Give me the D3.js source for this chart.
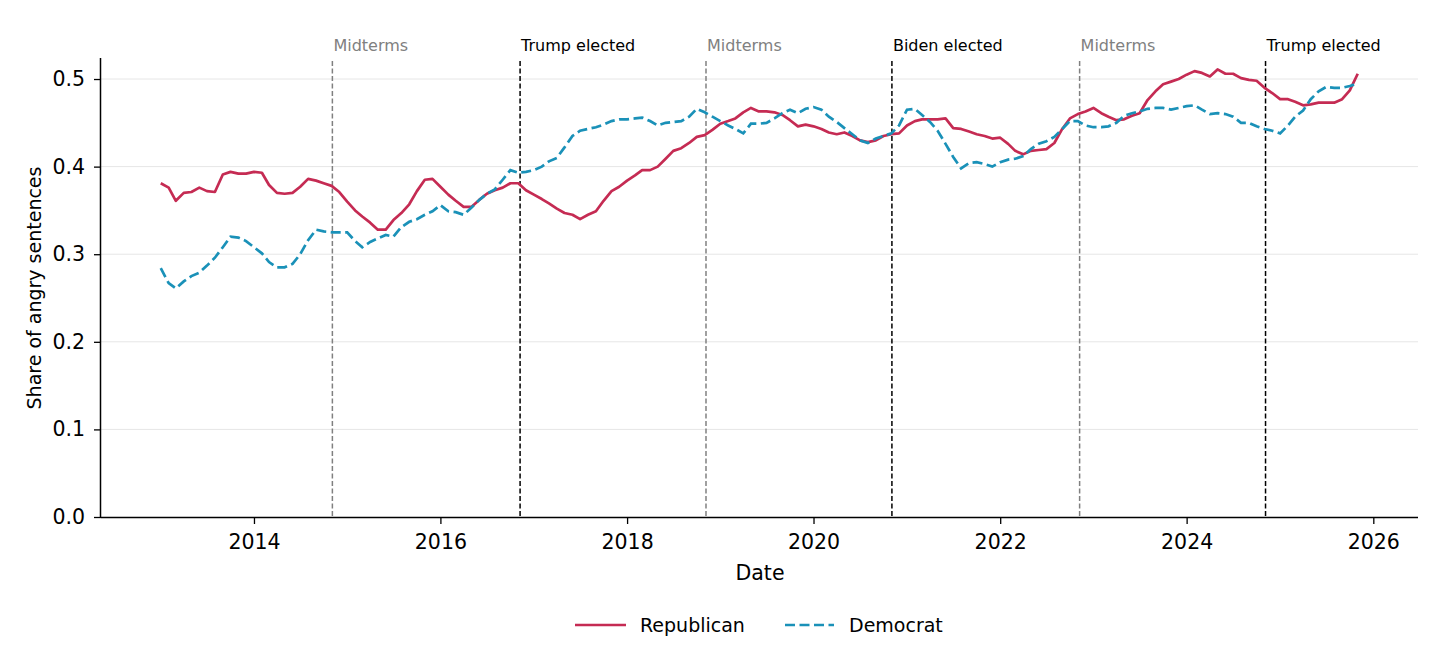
<!DOCTYPE html>
<html><head><meta charset="utf-8">
<script src="https://cdn.jsdelivr.net/npm/d3@7"></script>
<style>
body{margin:0;background:#fff;}
svg{display:block;font-family:"DejaVu Sans",sans-serif;}
</style></head>
<body><svg id="chart" width="1456" height="647"></svg>
<script>
// Monthly series, Jan 2013 .. Nov 2025
const startYear = 2013, startMonth = 0;
const republican = [
0.381,0.376,0.361,0.370,0.371,0.376,0.372,0.371,0.391,0.394,0.392,0.392,
0.394,0.393,0.379,0.370,0.369,0.370,0.377,0.386,0.384,0.381,0.378,0.371,
0.360,0.350,0.343,0.336,0.328,0.328,0.339,0.347,0.357,0.372,0.385,0.386,
0.377,0.368,0.361,0.354,0.354,0.362,0.369,0.373,0.376,0.381,0.381,0.373,
0.368,0.363,0.358,0.352,0.347,0.345,0.340,0.345,0.349,0.361,0.372,0.377,
0.384,0.390,0.396,0.396,0.400,0.409,0.418,0.421,0.427,0.434,0.436,0.442,
0.449,0.452,0.455,0.462,0.467,0.463,0.463,0.462,0.459,0.453,0.446,0.448,
0.446,0.443,0.439,0.437,0.439,0.435,0.430,0.428,0.430,0.435,0.437,0.438,
0.447,0.452,0.454,0.454,0.454,0.455,0.444,0.443,0.440,0.437,0.435,0.432,
0.433,0.426,0.418,0.414,0.418,0.419,0.420,0.427,0.443,0.455,0.460,0.463,
0.467,0.461,0.457,0.453,0.454,0.458,0.461,0.476,0.486,0.494,0.497,0.500,
0.505,0.509,0.507,0.503,0.511,0.506,0.506,0.501,0.499,0.498,0.490,0.484,
0.477,0.477,0.474,0.470,0.471,0.473,0.473,0.473,0.477,0.487,0.506
];
const democrat = [
0.284,0.267,0.261,0.269,0.275,0.279,0.287,0.296,0.308,0.320,0.319,0.315,
0.308,0.301,0.291,0.285,0.285,0.289,0.300,0.316,0.328,0.326,0.325,0.325,
0.325,0.315,0.308,0.314,0.318,0.322,0.320,0.331,0.337,0.340,0.345,0.349,
0.356,0.349,0.348,0.345,0.353,0.362,0.369,0.374,0.385,0.396,0.393,0.394,
0.396,0.400,0.406,0.410,0.422,0.435,0.441,0.443,0.445,0.448,0.452,0.454,
0.454,0.455,0.456,0.452,0.447,0.450,0.451,0.452,0.457,0.466,0.462,0.457,
0.452,0.447,0.443,0.438,0.449,0.449,0.450,0.455,0.461,0.465,0.461,0.466,
0.468,0.465,0.457,0.451,0.444,0.437,0.430,0.427,0.432,0.435,0.438,0.447,
0.465,0.466,0.459,0.451,0.441,0.426,0.411,0.398,0.404,0.405,0.403,0.400,
0.405,0.408,0.409,0.412,0.420,0.426,0.429,0.434,0.443,0.452,0.452,0.447,
0.445,0.445,0.446,0.450,0.458,0.461,0.463,0.466,0.467,0.467,0.465,0.467,
0.469,0.470,0.465,0.460,0.461,0.460,0.457,0.450,0.450,0.446,0.443,0.441,
0.438,0.447,0.457,0.464,0.477,0.486,0.491,0.490,0.490,0.492,0.495
];
const eventDates = ["2014-11-04","2016-11-08","2018-11-06","2020-11-03","2022-11-08","2024-11-05"];
const eventLabels = ["Midterms","Trump elected","Midterms","Biden elected","Midterms","Trump elected"];
const eventKinds = ["midterm","election","midterm","election","midterm","election"];
const yTicks = [0.0,0.1,0.2,0.3,0.4,0.5];
const xTickYears = [2014,2016,2018,2020,2022,2024,2026];
const seriesNames = ["Republican","Democrat"];

const svg = d3.select("#chart");
const m = {left:101, right:1418, top:58, bottom:517};
const x = d3.scaleTime()
  .domain([new Date(2012,4,12), new Date(2026,5,25)])
  .range([m.left, m.right]);
const y = d3.scaleLinear().domain([0, 0.524]).range([m.bottom, m.top]);

const dateAt = i => new Date(startYear, startMonth + i, 1);
const repData = republican.map((v,i)=>({d:dateAt(i), v}));
const demData = democrat.map((v,i)=>({d:dateAt(i), v}));

// grid
svg.append("g").selectAll("line").data(yTicks.slice(1)).join("line")
  .attr("x1", m.left).attr("x2", m.right)
  .attr("y1", d=>y(d)).attr("y2", d=>y(d))
  .attr("stroke","#e6e6e6").attr("stroke-width",1);

// event lines
const parse = d3.timeParse("%Y-%m-%d");
const ev = svg.append("g");
eventDates.forEach((ds,i)=>{
  const xx = x(parse(ds));
  const col = eventKinds[i]==="midterm" ? "#808080" : "#000";
  ev.append("line").attr("x1",xx).attr("x2",xx).attr("y1",61).attr("y2",m.bottom)
    .attr("stroke",col).attr("stroke-width",1.5).attr("stroke-dasharray","5,2.5");
  ev.append("text").attr("x",xx+1).attr("y",51).attr("font-size",16)
    .attr("fill", eventKinds[i]==="midterm" ? "#808080" : "#000").text(eventLabels[i]);
});

// lines
const line = d3.line().x(d=>x(d.d)).y(d=>y(d.v));
svg.append("path").datum(repData).attr("d",line).attr("fill","none")
  .attr("stroke","#c52b53").attr("stroke-width",2.7).attr("stroke-linejoin","round");
svg.append("path").datum(demData).attr("d",line).attr("fill","none")
  .attr("stroke","#1a91b8").attr("stroke-width",2.7).attr("stroke-dasharray","10,4.5");

// axes
const xAxis = d3.axisBottom(x).tickValues(xTickYears.map(yv=>new Date(yv,0,1)))
  .tickFormat(d3.timeFormat("%Y")).tickSize(7).tickPadding(10);
const gx = svg.append("g").attr("transform",`translate(0,${m.bottom})`).call(xAxis);
gx.select(".domain").attr("d",`M${m.left},0.5H${m.right}`);
const yAxis = d3.axisLeft(y).tickValues(yTicks).tickFormat(d3.format(".1f")).tickSize(7).tickPadding(9);
const gy = svg.append("g").attr("transform",`translate(${m.left},0)`).call(yAxis);
gy.select(".domain").attr("d",`M-0.5,${m.top}V${m.bottom}`);
[gx,gy].forEach(g=>{
  g.selectAll("text").attr("font-size",20.5).attr("font-family","DejaVu Sans").attr("fill","#000");
  g.selectAll("line").attr("stroke","#000").attr("stroke-width",1.3);
  g.select(".domain").attr("stroke","#000").attr("stroke-width",1.5);
});

svg.append("text").attr("x",760).attr("y",580).attr("text-anchor","middle")
  .attr("font-size",20.5).text("Date");
svg.append("text").attr("transform","translate(41,288) rotate(-90)").attr("text-anchor","middle")
  .attr("font-size",19).text("Share of angry sentences");

// legend
const lg = svg.append("g");
lg.append("line").attr("x1",575).attr("x2",626).attr("y1",625).attr("y2",625)
  .attr("stroke","#c52b53").attr("stroke-width",2.7);
lg.append("text").attr("x",640).attr("y",632).attr("font-size",19).text(seriesNames[0]);
lg.append("line").attr("x1",785).attr("x2",834).attr("y1",625).attr("y2",625)
  .attr("stroke","#1a91b8").attr("stroke-width",2.7).attr("stroke-dasharray","10,4.5");
lg.append("text").attr("x",849).attr("y",632).attr("font-size",19).text(seriesNames[1]);
</script></body></html>
